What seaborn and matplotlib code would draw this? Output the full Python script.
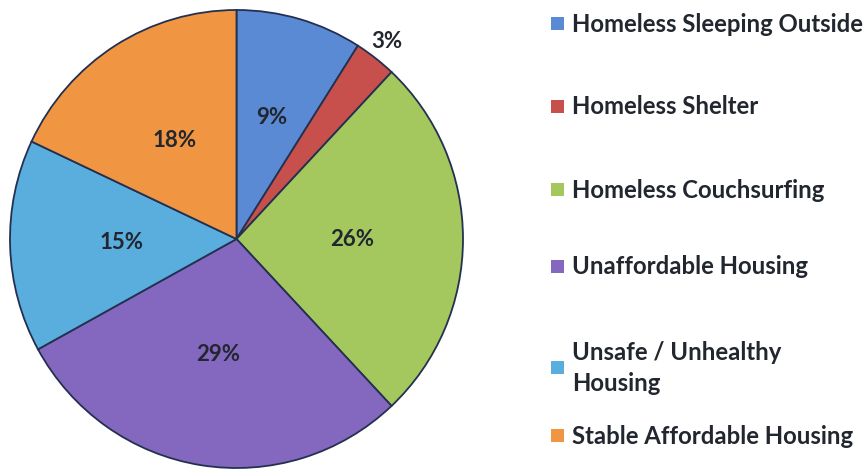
import matplotlib
matplotlib.use("Agg")
import matplotlib.pyplot as plt
from matplotlib.patches import Rectangle
import numpy as np
import seaborn as sns

categories = [
    "Homeless Sleeping Outside",
    "Homeless Shelter",
    "Homeless Couchsurfing",
    "Unaffordable Housing",
    "Unsafe / Unhealthy\nHousing",
    "Stable Affordable Housing",
]
shares = [9, 3, 26, 29, 15, 18]

sns.set_theme(style="white")
plt.rcParams["font.family"] = ["Lato", "DejaVu Sans"]

colors = ["#5a8ad4", "#c8504c", "#a4c75e", "#8467bf", "#5aaede", "#f09642"]
text_color = "#22262e"
edge_color = "#243050"

W, H = 865, 472
fig = plt.figure(figsize=(W / 100, H / 100), dpi=100)
fig.patch.set_facecolor("white")

# Pie occupies pixels x 10..463, y 10..468
ax = fig.add_axes([10 / W, 1 - 468 / H, 453 / W, 458 / H])
wedges, texts, autotexts = ax.pie(
    shares,
    colors=colors,
    startangle=90,
    counterclock=False,
    autopct=lambda p: f"{p:.0f}%",
    pctdistance=0.51,
    wedgeprops=dict(edgecolor=edge_color, linewidth=1.3),
    textprops=dict(fontsize=16, color=text_color, fontweight="bold"),
)
ax.set_xlim(-1, 1)
ax.set_ylim(-1, 1)
ax.set_aspect("auto")
ax.axis("off")

# The small slice is labelled just outside the rim
cum = np.cumsum([0] + shares)
mid = (cum[1] + cum[2]) / 2 / sum(shares) * 2 * np.pi
autotexts[1].set_position((1.08 * np.sin(mid), 1.09 * np.cos(mid)))
x0, y0 = autotexts[0].get_position()
autotexts[0].set_position((x0 * 1.08, y0 * 1.08))

# Legend: colour squares with labels to the right
legend_rows = [24, 107, 190, 267, 368, 436]
for name, col, yc in zip(categories, colors, legend_rows):
    fig.patches.append(Rectangle((551 / W, 1 - (yc + 6) / H), 13 / W, 13 / H,
                                 transform=fig.transFigure, facecolor=col,
                                 edgecolor="none"))
    fig.text(572 / W, 1 - yc / H, name, fontsize=17.2, color=text_color,
             fontweight="bold", va="center", ha="left", linespacing=1.45)

fig.savefig("out.png", dpi=100, facecolor="white")
